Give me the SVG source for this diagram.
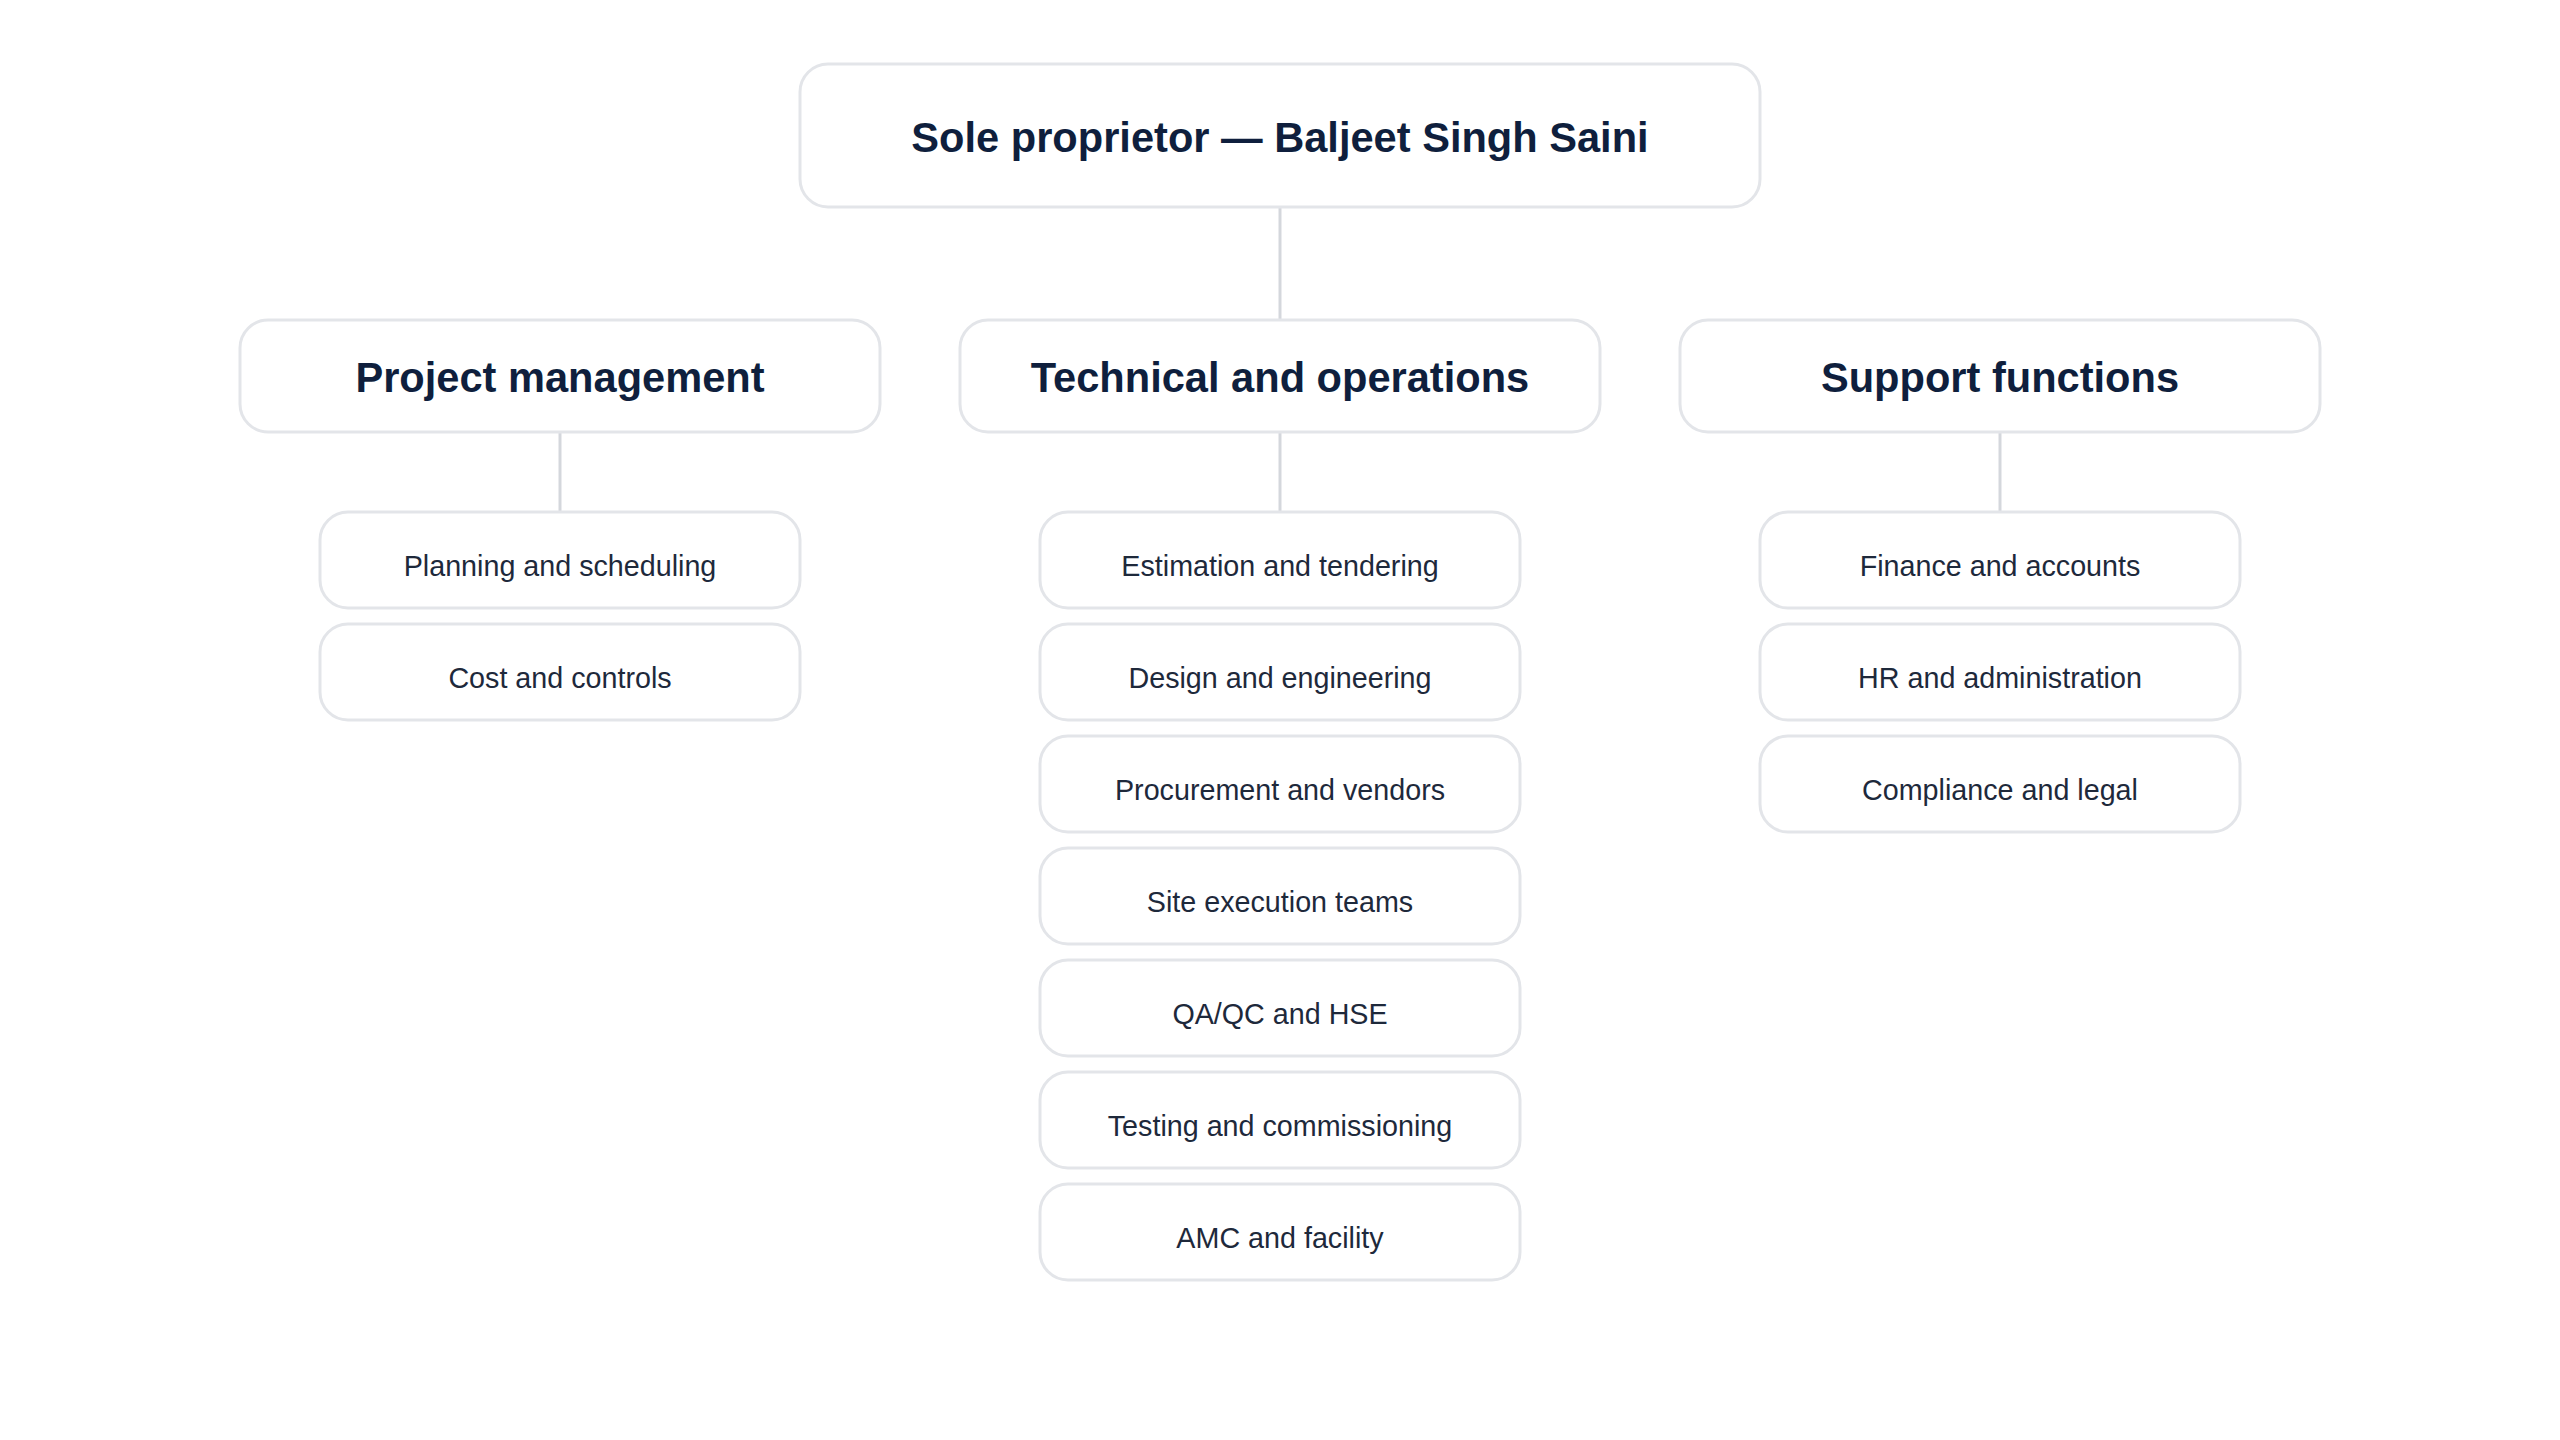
<svg xmlns="http://www.w3.org/2000/svg" width="2560" height="1440" viewBox="0 0 2560 1440">
<style>
.box{fill:#ffffff;stroke:#e3e5e9;stroke-width:3}
.t1{font-family:"Liberation Sans",Arial,sans-serif;font-weight:bold;font-size:41.6px;fill:#0f1f3d;text-anchor:middle}
.t3{font-family:"Liberation Sans",Arial,sans-serif;font-size:28.7px;fill:#1e293b;text-anchor:middle}
.conn{stroke:#d4d7dc;stroke-width:3;fill:none}
</style>
<rect width="2560" height="1440" fill="#ffffff"/>
<g id="connectors">
<line class="conn" x1="1280" y1="207" x2="1280" y2="320"/>
<line class="conn" x1="560" y1="432" x2="560" y2="512"/>
<line class="conn" x1="1280" y1="432" x2="1280" y2="512"/>
<line class="conn" x1="2000" y1="432" x2="2000" y2="512"/>
</g>
<g id="root"><rect class="box" x="800" y="64" width="960" height="143" rx="28"/><text class="t1" x="1280" y="152">Sole proprietor — Baljeet Singh Saini</text></g>
<g id="pm"><rect class="box" x="240" y="320" width="640" height="112" rx="28"/><text class="t1" x="560" y="392">Project management</text></g>
<g id="tech"><rect class="box" x="960" y="320" width="640" height="112" rx="28"/><text class="t1" x="1280" y="392">Technical and operations</text></g>
<g id="support"><rect class="box" x="1680" y="320" width="640" height="112" rx="28"/><text class="t1" x="2000" y="392">Support functions</text></g>
<g id="pm1"><rect class="box" x="320" y="512" width="480" height="96" rx="28"/><text class="t3" x="560" y="576">Planning and scheduling</text></g>
<g id="pm2"><rect class="box" x="320" y="624" width="480" height="96" rx="28"/><text class="t3" x="560" y="688">Cost and controls</text></g>
<g id="tech1"><rect class="box" x="1040" y="512" width="480" height="96" rx="28"/><text class="t3" x="1280" y="576">Estimation and tendering</text></g>
<g id="tech2"><rect class="box" x="1040" y="624" width="480" height="96" rx="28"/><text class="t3" x="1280" y="688">Design and engineering</text></g>
<g id="tech3"><rect class="box" x="1040" y="736" width="480" height="96" rx="28"/><text class="t3" x="1280" y="800">Procurement and vendors</text></g>
<g id="tech4"><rect class="box" x="1040" y="848" width="480" height="96" rx="28"/><text class="t3" x="1280" y="912">Site execution teams</text></g>
<g id="tech5"><rect class="box" x="1040" y="960" width="480" height="96" rx="28"/><text class="t3" x="1280" y="1024">QA/QC and HSE</text></g>
<g id="tech6"><rect class="box" x="1040" y="1072" width="480" height="96" rx="28"/><text class="t3" x="1280" y="1136">Testing and commissioning</text></g>
<g id="tech7"><rect class="box" x="1040" y="1184" width="480" height="96" rx="28"/><text class="t3" x="1280" y="1248">AMC and facility</text></g>
<g id="sup1"><rect class="box" x="1760" y="512" width="480" height="96" rx="28"/><text class="t3" x="2000" y="576">Finance and accounts</text></g>
<g id="sup2"><rect class="box" x="1760" y="624" width="480" height="96" rx="28"/><text class="t3" x="2000" y="688">HR and administration</text></g>
<g id="sup3"><rect class="box" x="1760" y="736" width="480" height="96" rx="28"/><text class="t3" x="2000" y="800">Compliance and legal</text></g>
</svg>
